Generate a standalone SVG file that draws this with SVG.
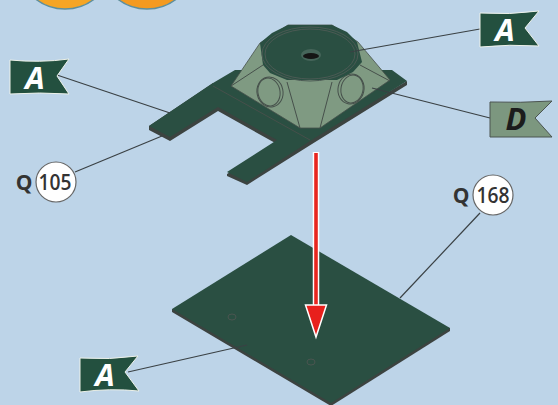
<svg xmlns="http://www.w3.org/2000/svg" width="558" height="405" viewBox="0 0 558 405">
<style>
.lead{stroke:#3a4144;stroke-width:1.2;fill:none}
.flagA{fill:#23503f;stroke:#eef2ea;stroke-width:1}
.flagD{fill:#7c977f;stroke:#4b5450;stroke-width:1}
.lt{font:italic bold 31px "Open Sans","Liberation Sans",sans-serif;text-anchor:middle}
.num{font:600 22px "Open Sans","Liberation Sans",sans-serif;fill:#333;text-anchor:middle}
.q{font:bold 21px "Open Sans","Liberation Sans",sans-serif;fill:#333;text-anchor:middle}
.bub{fill:#fff;stroke:#666;stroke-width:1.2}
.edge{stroke:#46504b;stroke-width:1;fill:none}
.dark{fill:#2a4f42}
.side{fill:#3c4340}
.face{fill:#7f9a82;stroke:#46504b;stroke-width:.8}
</style>
<rect width="558" height="405" fill="#bdd4e8"/>
<g id="coin1"><circle cx="65" cy="-39" r="48" fill="#f6a524" stroke="#5f8f9c" stroke-width="1.5"/></g>
<g id="coin2"><circle cx="147" cy="-39" r="48" fill="#f49a20" stroke="#5f8f9c" stroke-width="1.5"/></g>
<g id="bottom-plate">
<path class="side" d="M172 309L172 312L331 406L450 331L450 328Z"/>
<path class="dark" d="M291 235L172 309L331 403L450 328Z"/>
<ellipse cx="232" cy="317" rx="4" ry="3" fill="none" stroke="#4a5550"/>
<ellipse cx="311" cy="362" rx="4" ry="3" fill="none" stroke="#4a5550"/>
</g>
<g id="upper-part">
<path class="side" d="M149 126L149 130L170 141L218 111L277 144L227 174L227 176L247 185L312 144L407 85L407 81L310 138L213 83Z"/>
<path class="dark" d="M235 70L213 83L149 126L170 137L218 107L277 140L227 172L247 182L310 141L407 81L392 70Z"/>
<path class="edge" d="M213 86L310 140"/>
<path class="face" d="M288 25L332 25L358 42L390 80L320 128L300 128L231 86L260 43Z"/>
<path class="edge" d="M263 65L231 86M360 65L390 81M287 82L300 128M332 82L320 128"/>
<ellipse class="edge" cx="270" cy="92" rx="13" ry="15" transform="rotate(-12 270 92)"/>
<ellipse class="edge" cx="269" cy="92" rx="11" ry="14" transform="rotate(-12 269 92)"/>
<ellipse class="edge" cx="351" cy="89" rx="13" ry="15" transform="rotate(12 351 89)"/>
<ellipse class="edge" cx="352" cy="89" rx="11" ry="14" transform="rotate(12 352 89)"/>
<path class="dark" d="M288 25L332 25L347 32L357 42L362 62L353 72L337 80L287 80L270 73L263 65L260 43L272 33Z"/>
<ellipse cx="310" cy="54" rx="48" ry="27" fill="none" stroke="#4b5a54"/>
<ellipse cx="310" cy="54" rx="45" ry="25" fill="none" stroke="#4b5a54"/>
<ellipse cx="311" cy="55" rx="10" ry="6" fill="#46655a"/>
<ellipse cx="311" cy="56" rx="8" ry="3" fill="#151515"/>
</g>
<g id="connectors">
<path class="lead" d="M350 52L480 29"/>
<path class="lead" d="M372 88L490 118"/>
<path class="lead" d="M57 75L170 113"/>
<path class="lead" d="M75 172L162 136"/>
<path class="lead" d="M400 298L480 213"/>
<path class="lead" d="M128 372L247 345"/>
</g>
<g id="flag-A-top">
<path class="flagA" d="M480 13Q510 15 539 11L525 28L539 46Q510 44 480 47Z"/>
<text class="lt" x="505" y="41" fill="#fff">A</text>
</g>
<g id="flag-D">
<path class="flagD" d="M490 102Q520 103 552 101L535 118L552 137L490 137Z"/>
<text class="lt" x="516" y="130" fill="#1c1c1c">D</text>
</g>
<g id="flag-A-left">
<path class="flagA" d="M10 60Q40 63 69 59L57 76L69 94Q40 92 10 94Z"/>
<text class="lt" x="35" y="89" fill="#fff">A</text>
</g>
<g id="flag-A-bottom">
<path class="flagA" d="M80 358Q110 360 138 356L125 372L139 391Q110 388 80 392Z"/>
<text class="lt" x="105" y="386" fill="#fff">A</text>
</g>
<g id="q105">
<text class="q" x="24" y="190">Q</text>
<circle class="bub" cx="56" cy="182" r="20"/>
<text class="num" x="55" y="190" textLength="33" lengthAdjust="spacingAndGlyphs">105</text>
</g>
<g id="q168">
<text class="q" x="461" y="203">Q</text>
<circle class="bub" cx="493" cy="195" r="20"/>
<text class="num" x="493" y="203" textLength="33" lengthAdjust="spacingAndGlyphs">168</text>
</g>
<g id="arrow">
<path d="M316 152V306" stroke="#fff" stroke-width="6.5" fill="none"/>
<path d="M316 153V306" stroke="#e8261f" stroke-width="3.6" fill="none"/>
<path d="M305.5 305H326.5L316 337Z" fill="#e8201c" stroke="#fff" stroke-width="1.5"/>
</g>
</svg>
